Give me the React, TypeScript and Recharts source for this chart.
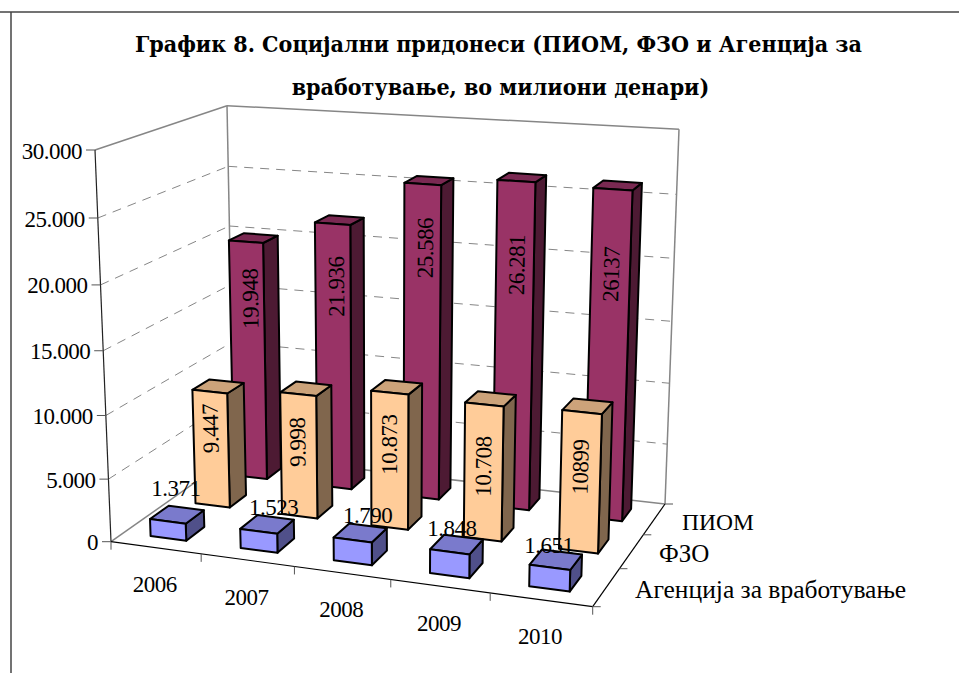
import React from 'react';
import { BarChart, Bar, XAxis, YAxis } from 'recharts';

const years = ['2006', '2007', '2008', '2009', '2010'];
const piom = [19948, 21936, 25586, 26281, 26137];
const fzo = [9447, 9998, 10873, 10708, 10899];
const agency = [1371, 1523, 1790, 1848, 1651];
const piomLabels = ['19.948', '21.936', '25.586', '26.281', '26137'];
const fzoLabels = ['9.447', '9.998', '10.873', '10.708', '10899'];
const agencyLabels = ['1.371', '1.523', '1.790', '1.848', '1.651'];
const yTicks = [0, 5000, 10000, 15000, 20000, 25000, 30000];
const yTickLabels = ['0', '5.000', '10.000', '15.000', '20.000', '25.000', '30.000'];
const seriesNames = ['ПИОМ', 'ФЗО', 'Агенција за вработување'];
const titleLines = ['График 8. Социјални придонеси (ПИОМ, ФЗО и Агенција за', 'вработување, во милиони денари)'];

const table = years.map((year, i) => ({ year, piom: piom[i], fzo: fzo[i], agency: agency[i] }));

// plot rectangle, which the flat scales map onto before the 3D view is applied
const PL = 100, PT = 100, PW = 800, PH = 500;
type P = [number, number];
const FL: P = [111, 541.7], FR: P = [592.7, 606.7], BL: P = [234, 455], BR: P = [665, 504];
const TFL: P = [95, 150], TFR: P = [604, 187], TBL: P = [227, 105.7], TBR: P = [679, 129.3];

const warpV = (v: number) => v * (0.95 + 0.05 * v);
const warpU = (u: number) => u - 0.08 * u * (1 - u);
const project = (u0: number, d: number, v0: number): P => {
  const v = warpV(v0);
  const u = warpU(u0);
  const mix = (a: P, b: P, t: number): P => [a[0] + (b[0] - a[0]) * t, a[1] + (b[1] - a[1]) * t];
  const bottom = mix(mix(FL, FR, u), mix(BL, BR, u), d);
  const top = mix(mix(TFL, TFR, u), mix(TBL, TBR, u), d);
  return mix(bottom, top, v);
};
const pts = (list: P[]) => list.map((p) => `${p[0].toFixed(1)},${p[1].toFixed(1)}`).join(' ');
const line = (a: P, b: P, props: any, key?: string) => (
  <line key={key} x1={a[0]} y1={a[1]} x2={b[0]} y2={b[1]} {...props} />
);

const DEPTHS = [[0.8, 0.92], [0.481, 0.62], [0.107, 0.262]];
const DEPTH_TICKS = [0.37, 0.7, 1];
const FILLS = [
  { front: '#993366', top: '#7a2952', side: '#4d1a33' },
  { front: '#ffcc99', top: '#cca37a', side: '#80664d' },
  { front: '#9999ff', top: '#7a7acc', side: '#50508a' },
];
const LABEL_DROP = [[57, 63, 64, 84, 85], [37, 48, 52, 62, 55]];
const LABEL_NUDGE = [[3.5, 3.5, 3, 2, 1], [0, -1, 0, 0, 0]];
const LABEL_SHIFT: P[] = [[8, -33], [15, -24], [15, -25], [2, -23], [-1, -22]];
const SERIES_LABEL_POS: P[] = [[682, 530], [659, 562], [635, 598]];
const SERIES_LABEL_SIZE = [23.5, 25, 25.5];
const FONT = '"Liberation Serif", serif';
const TITLE_FONT = '"DejaVu Serif Condensed", "DejaVu Serif", serif';
const NUM = { fontFamily: FONT, fontSize: 23, letterSpacing: -0.5, fill: '#000' };

const Box = (props: any) => {
  const { x, y, width, height, series, index, text } = props;
  const u0 = (x - PL) / PW, u1 = (x + width - PL) / PW;
  const [d0, d1] = DEPTHS[series];
  const vTop = (PT + PH - y) / PH;
  const vBase = (PT + PH - (y + height)) / PH;
  const f0 = project(u0, d0, vBase), f1 = project(u1, d0, vBase);
  const t0 = project(u0, d0, vTop), t1 = project(u1, d0, vTop);
  const b1 = project(u1, d1, vBase), tb1 = project(u1, d1, vTop), tb0 = project(u0, d1, vTop);
  const c = FILLS[series];
  const stroke = { stroke: '#000', strokeWidth: 2, strokeLinejoin: 'round' as const };
  const mid: P = [(t0[0] + t1[0]) / 2, (t0[1] + t1[1]) / 2];
  const midB: P = [(f0[0] + f1[0]) / 2, (f0[1] + f1[1]) / 2];
  let label;
  if (series < 2) {
    const len = Math.hypot(midB[0] - mid[0], midB[1] - mid[1]);
    const drop = LABEL_DROP[series][index];
    const lx = mid[0] + ((midB[0] - mid[0]) * drop) / len + LABEL_NUDGE[series][index];
    const ly = mid[1] + ((midB[1] - mid[1]) * drop) / len;
    const angle = (Math.atan2(mid[1] - midB[1], mid[0] - midB[0]) * 180) / Math.PI;
    label = (
      <text x={lx} y={ly} transform={`rotate(${angle} ${lx} ${ly})`} textAnchor="middle" dominantBaseline="central" {...NUM}>{text}</text>
    );
  } else {
    const s = LABEL_SHIFT[index];
    label = (
      <text x={mid[0] + s[0]} y={mid[1] + s[1]} textAnchor="middle" dominantBaseline="central" {...NUM}>{text}</text>
    );
  }
  return (
    <g>
      <polygon points={pts([f1, b1, tb1, t1])} fill={c.side} {...stroke} />
      <polygon points={pts([t0, t1, tb1, tb0])} fill={c.top} {...stroke} />
      <polygon points={pts([f0, f1, t1, t0])} fill={c.front} {...stroke} />
      {label}
    </g>
  );
};

const YTick = (props: any) => {
  const v = (PT + PH - props.y) / PH;
  const p = project(0, 0, v);
  const idx = yTicks.indexOf(props.payload.value);
  return (
    <g>
      {line([p[0] - 9, p[1]], p, { stroke: '#555', strokeWidth: 1 })}
      <text x={p[0] - 13} y={p[1] + 1} textAnchor="end" dominantBaseline="central" {...NUM}>
        {yTickLabels[idx]}
      </text>
    </g>
  );
};

const XTick = (props: any) => {
  const u = (props.x - PL) / PW;
  const p = project(u, 0, 0);
  return (
    <text x={p[0] - 1} y={p[1] + 37} textAnchor="middle" dominantBaseline="central" {...NUM}>
      {props.payload.value}
    </text>
  );
};

const Walls = () => {
  const gray = { stroke: '#868686', strokeWidth: 1.5 };
  const dash = { stroke: '#868686', strokeWidth: 1, strokeDasharray: '9 7' };
  const inner = yTicks.slice(1, -1).map((t) => t / yTicks[yTicks.length - 1]);
  return (
    <g>
      {inner.map((v, i) => (
        <g key={i}>
          {line(project(0, 0, v), project(0, 1, v), dash)}
          {line(project(0, 1, v), project(1, 1, v), dash)}
        </g>
      ))}
      {line(TFL, TBL, gray)}
      {line(TBL, TBR, gray)}
      {line(TBL, BL, gray)}
      {line(TBR, BR, gray)}
      {line(FL, BL, gray)}
      {line(BL, BR, gray)}
      {line(TFL, FL, { stroke: '#222', strokeWidth: 1.2 })}
      {line(FL, FR, { stroke: '#000', strokeWidth: 1.2 })}
      {line(FR, BR, { stroke: '#000', strokeWidth: 1.2 })}
      {years.map((_, i) => {
        const p = project((i + 1) / years.length, 0, 0);
        return <React.Fragment key={i}>{line(p, [p[0], p[1] + 8], { stroke: '#555', strokeWidth: 1 })}</React.Fragment>;
      })}
      {line(FL, [FL[0], FL[1] + 8], { stroke: '#555', strokeWidth: 1 })}
      {DEPTH_TICKS.map((d, i) => {
        const p = project(1, d, 0);
        return <React.Fragment key={i}>{line(p, [p[0] + 8, p[1]], { stroke: '#555', strokeWidth: 1 })}</React.Fragment>;
      })}
      {line(FR, [FR[0] + 8, FR[1]], { stroke: '#555', strokeWidth: 1 })}
    </g>
  );
};

export default function App() {
  return (
    <div style={{ position: 'absolute', left: 0, top: 0, width: 959, height: 673, background: '#fff' }}>
      <BarChart
        width={959}
        height={673}
        data={table}
        margin={{ left: PL - 1, top: PT, right: 959 - PL - PW, bottom: 673 - PT - PH - 1 }}
        barSize={64}
      >
        <line x1={0} y1={12} x2={959} y2={12} stroke="#444" strokeWidth={1.5} />
        <line x1={11} y1={12} x2={11} y2={673} stroke="#444" strokeWidth={1.5} />
        <text x={498.5} y={43} textAnchor="middle" dominantBaseline="central" fontFamily={TITLE_FONT} fontWeight="bold" fontSize={23}>{titleLines[0]}</text>
        <text x={500.5} y={86} textAnchor="middle" dominantBaseline="central" fontFamily={TITLE_FONT} fontWeight="bold" fontSize={23}>{titleLines[1]}</text>
        <Walls />
        <XAxis xAxisId="piom" dataKey="year" height={1} axisLine={false} tickLine={false} tick={<XTick />} interval={0} />
        <XAxis xAxisId="fzo" dataKey="year" hide />
        <XAxis xAxisId="agency" dataKey="year" hide />
        <YAxis width={1} domain={[0, 30000]} ticks={yTicks} axisLine={false} tickLine={false} tick={<YTick />} interval={0} />
        <Bar xAxisId="piom" dataKey="piom" isAnimationActive={false}
          shape={(p: any) => <Box {...p} series={0} text={piomLabels[p.index]} />} />
        <Bar xAxisId="fzo" dataKey="fzo" isAnimationActive={false}
          shape={(p: any) => <Box {...p} series={1} text={fzoLabels[p.index]} />} />
        <Bar xAxisId="agency" dataKey="agency" isAnimationActive={false}
          shape={(p: any) => <Box {...p} series={2} text={agencyLabels[p.index]} />} />
        {seriesNames.map((name, i) => (
          <text key={name} x={SERIES_LABEL_POS[i][0]} y={SERIES_LABEL_POS[i][1]} fontFamily={FONT} fontSize={SERIES_LABEL_SIZE[i]} fill="#000">{name}</text>
        ))}
      </BarChart>
    </div>
  );
}
